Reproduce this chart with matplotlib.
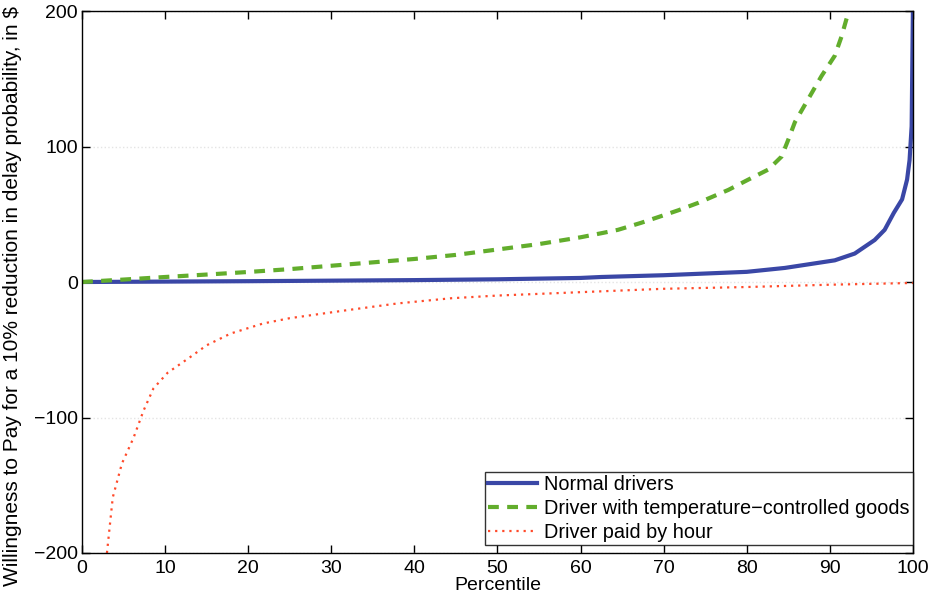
import numpy as np
import matplotlib.pyplot as plt

plt.rcParams['font.family'] = ['Liberation Sans', 'DejaVu Sans']

# ----------------------------
# Data
# ----------------------------
normal_pct = [0, 10, 20, 30, 40, 50, 60, 62.5, 70, 80, 84.6, 90.6, 93, 95.4,
              96.6, 97.7, 98.7, 99.3, 99.6, 99.85, 100]
normal_wtp = [0, 0.3, 0.6, 1, 1.4, 2, 3, 3.7, 5, 7.5, 10.4, 16, 21, 31,
              38.5, 51, 61, 75.6, 90, 115, 200]

temp_pct = [0, 5, 10, 15, 20, 25, 30, 35, 40, 45, 50, 55, 60, 62.5, 64.5,
            67.3, 69.4, 71.8, 74.2, 77.8, 80.2, 82.6, 84.2, 85, 85.8, 87.4,
            89, 90.6, 91.4, 92, 92.3]
temp_wtp = [0, 1.8, 3.7, 5.5, 7.4, 9.5, 12, 14.5, 17, 20, 24, 28, 33, 36, 38.5,
            43.7, 48, 53, 58.5, 68, 75.6, 83, 92.6, 105, 118, 135,
            152, 167, 181, 194, 200]

hour_pct = [3, 3.7, 4.8, 6.2, 7.4, 8.6, 10.3, 13, 15, 17.9, 21.8, 25, 32, 38,
            44.4, 50, 60, 70, 80, 90, 100]
hour_wtp = [-200, -159, -134, -115, -95, -78.5, -67, -55.5, -46.7, -38, -30.6,
            -26.7, -20.7, -15.8, -12, -10, -7.5, -5, -3.7, -2, -0.7]

x_ticks = [0, 10, 20, 30, 40, 50, 60, 70, 80, 90, 100]
y_ticks = [-200, -100, 0, 100, 200]

# ----------------------------
# Plot
# ----------------------------
fig = plt.figure(figsize=(9.32, 6.02), dpi=100)
ax = fig.add_axes([0.088, 0.0814, 0.8915, 0.9003])

ax.plot(normal_pct, normal_wtp, color='#3a47a6', linewidth=3,
        label='Normal drivers')
ax.plot(temp_pct, temp_wtp, color='#62ad2c', linewidth=3,
        dashes=(2.6, 2.0), label='Driver with temperature\u2212controlled goods')
ax.plot(hour_pct, hour_wtp, color='#ff4a2a', linewidth=1.6,
        linestyle=(0, (1, 2.2)), label='Driver paid by hour')

ax.set_xlim(0, 100)
ax.set_ylim(-200, 200)
ax.set_xticks(x_ticks)
ax.set_yticks(y_ticks)
ax.set_yticklabels([str(v).replace('-', '\u2212') for v in y_ticks])
ax.tick_params(direction='in', top=True, right=True, labelsize=14,
               length=6, width=1)
ax.tick_params(axis='x', pad=5)
ax.tick_params(axis='y', pad=3)
for s in ax.spines.values():
    s.set_linewidth(1)

ax.yaxis.grid(True, color='#e4e4e4', linestyle=':', linewidth=1)

ax.set_xlabel('Percentile', fontsize=14, labelpad=0)
ax.set_ylabel('Willingness to Pay for a 10% reduction in delay probability, in $',
              fontsize=15)
ax.yaxis.set_label_coords(-0.072, 0.475)

leg = ax.legend(loc='lower right', fontsize=14.3, frameon=True, fancybox=False,
                edgecolor='black', handlelength=2.5, borderpad=0.15,
                labelspacing=0.25, handletextpad=0.35, borderaxespad=0,
                bbox_to_anchor=(1.0, 0.015))
leg.get_frame().set_linewidth(1)

plt.savefig('out.png', dpi=100)
